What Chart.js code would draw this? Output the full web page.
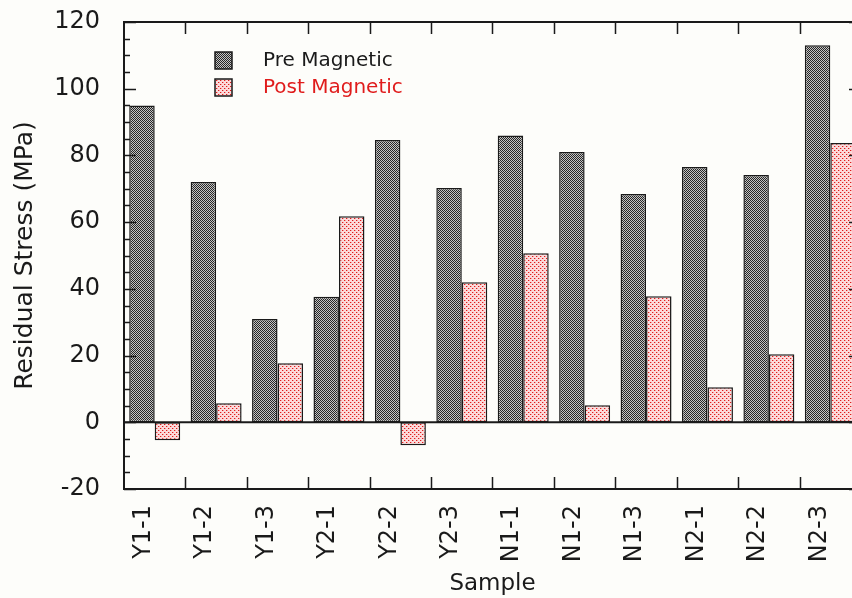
<!DOCTYPE html>
<html lang="en">
<head>
    <meta charset="UTF-8">
    <title>Residual Stress</title>
    <script src="https://cdn.jsdelivr.net/npm/chart.js"></script>
    <style>
        body { margin: 0; background: #fdfdfa; overflow: hidden; }
        .wrap { width: 870px; height: 598px; }
    </style>
</head>
<body>
    <div class="wrap"><canvas id="stressChart"></canvas></div>

    <script>
        // data
        const samples = ['Y1-1', 'Y1-2', 'Y1-3', 'Y2-1', 'Y2-2', 'Y2-3', 'N1-1', 'N1-2', 'N1-3', 'N2-1', 'N2-2', 'N2-3'];
        const preMagnetic = [95, 72, 31, 37.6, 84.6, 70.2, 86, 81, 68.4, 76.5, 74.1, 113];
        const postMagnetic = [-5.4, 5.7, 17.7, 61.8, -6.9, 42, 50.7, 5.1, 37.8, 10.5, 20.4, 83.7];
        const yTicks = [-20, 0, 20, 40, 60, 80, 100, 120];

        const FONT = "'DejaVu Sans', sans-serif";
        const INK = '#1a1a1a';

        // dotted fills like the original
        function makePattern(size, base, dots) {
            const c = document.createElement('canvas');
            c.width = size; c.height = size;
            const g = c.getContext('2d');
            g.fillStyle = base;
            g.fillRect(0, 0, size, size);
            dots.forEach(d => { g.fillStyle = d[2]; g.fillRect(d[0], d[1], 1, 1); });
            return g.createPattern(c, 'repeat');
        }
        const prePattern = makePattern(2, '#c4c4c4', [[0, 0, '#262626'], [1, 1, '#262626']]);
        const postPattern = makePattern(4, '#fcdada', [[0, 0, '#e01c1c'], [2, 2, '#e01c1c'], [1, 0, '#f3a0a0'], [3, 2, '#f3a0a0']]);

        // frame, inward ticks, zero line and the legend inside the plot
        const framePlugin = {
            id: 'frame',
            afterDatasetsDraw(chart) {
                const { ctx, chartArea: a, scales: { x, y } } = chart;
                ctx.save();
                ctx.strokeStyle = INK;
                ctx.lineWidth = 2;

                // zero line
                ctx.beginPath();
                ctx.moveTo(a.left, y.getPixelForValue(0));
                ctx.lineTo(a.right, y.getPixelForValue(0));
                ctx.stroke();

                ctx.strokeRect(a.left, a.top, a.right - a.left, a.bottom - a.top);

                // y ticks, every 5 minor, every 20 major
                ctx.lineWidth = 1.5;
                for (let v = -20; v <= 120; v += 5) {
                    const py = Math.round(y.getPixelForValue(v)) + 0.5;
                    const len = v % 20 === 0 ? 12 : 6;
                    ctx.beginPath();
                    ctx.moveTo(a.left, py); ctx.lineTo(a.left + len, py);
                    ctx.moveTo(a.right, py); ctx.lineTo(a.right - len, py);
                    ctx.stroke();
                }
                // x ticks at category boundaries
                const half = (x.getPixelForValue(1) - x.getPixelForValue(0)) / 2;
                for (let i = 1; i < samples.length; i++) {
                    const px = Math.round(x.getPixelForValue(i) - half) + 0.5;
                    ctx.beginPath();
                    ctx.moveTo(px, a.top); ctx.lineTo(px, a.top + 12);
                    ctx.moveTo(px, a.bottom); ctx.lineTo(px, a.bottom - 12);
                    ctx.stroke();
                }

                // legend
                const lx = a.left + 91, ly = a.top + 30;
                chart.data.datasets.forEach((ds, i) => {
                    const by = ly + i * 27;
                    ctx.fillStyle = ds.backgroundColor;
                    ctx.fillRect(lx, by, 17, 17);
                    ctx.lineWidth = 1.5;
                    ctx.strokeStyle = INK;
                    ctx.strokeRect(lx, by, 17, 17);
                    ctx.fillStyle = ds.labelColor;
                    ctx.font = '20px ' + FONT;
                    ctx.textBaseline = 'middle';
                    ctx.fillText(ds.label, lx + 48, by + 9);
                });
                ctx.restore();
            }
        };

        new Chart(document.getElementById('stressChart'), {
            type: 'bar',
            data: {
                labels: samples,
                datasets: [{
                    label: 'Pre Magnetic',
                    data: preMagnetic,
                    backgroundColor: prePattern,
                    borderColor: INK,
                    borderWidth: 1.5,
                    borderSkipped: false,
                    labelColor: INK
                }, {
                    label: 'Post Magnetic',
                    data: postMagnetic,
                    backgroundColor: postPattern,
                    borderColor: INK,
                    borderWidth: 1.5,
                    borderSkipped: false,
                    labelColor: '#e01c1c'
                }]
            },
            options: {
                responsive: true,
                maintainAspectRatio: false,
                animation: false,
                layout: { padding: { top: 22, right: 9, left: 0, bottom: 0 } },
                categoryPercentage: 0.83,
                barPercentage: 1,
                plugins: {
                    legend: { display: false },
                    tooltip: { enabled: false }
                },
                scales: {
                    x: {
                        grid: { display: false },
                        border: { display: false },
                        ticks: {
                            color: INK,
                            font: { family: FONT, size: 24 },
                            minRotation: 90,
                            maxRotation: 90,
                            padding: 8,
                            labelOffset: -11
                        },
                        title: {
                            display: true,
                            text: 'Sample',
                            color: INK,
                            font: { family: FONT, size: 23 },
                            padding: { top: 0, bottom: 0 }
                        },
                        afterFit(scale) {
                            scale.height = 109;
                            scale.paddingLeft = 0; scale.paddingRight = 0;
                        }
                    },
                    y: {
                        min: -20,
                        max: 120,
                        grid: { display: false },
                        border: { display: false },
                        afterBuildTicks(scale) { scale.ticks = yTicks.map(v => ({ value: v })); },
                        ticks: {
                            color: INK,
                            font: { family: FONT, size: 24 },
                            padding: 16
                        },
                        title: {
                            display: true,
                            text: 'Residual Stress (MPa)',
                            color: INK,
                            font: { family: FONT, size: 25 },
                            padding: { top: 10, bottom: 0 }
                        },
                        afterFit(scale) {
                            scale.width = 124;
                            scale.paddingTop = 0; scale.paddingBottom = 0;
                        }
                    }
                }
            },
            plugins: [framePlugin]
        });
    </script>
</body>
</html>
